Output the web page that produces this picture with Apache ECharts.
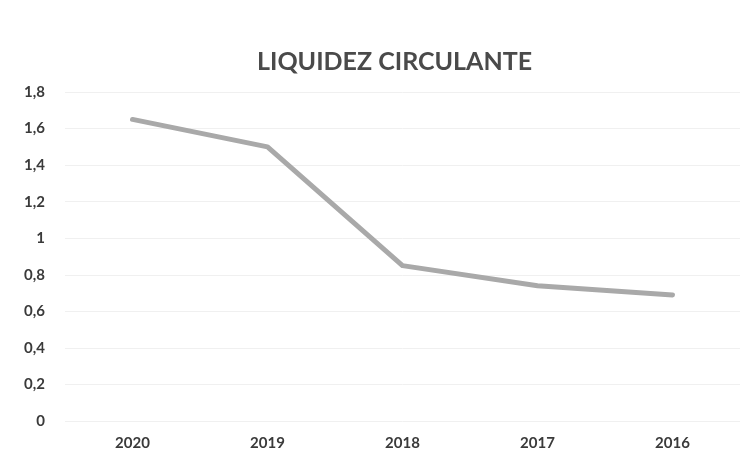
<!DOCTYPE html>
<html><head><meta charset="utf-8">
<script src="https://cdn.jsdelivr.net/npm/echarts@6/dist/echarts.min.js"></script>
<style>html,body{margin:0;padding:0;background:#fff}#c{width:755px;height:475px}</style>
</head><body><div id="c"></div>
<script>
var categories = ['2020', '2019', '2018', '2017', '2016'];
var values = [1.65, 1.50, 0.85, 0.74, 0.69];
var titleText = 'LIQUIDEZ CIRCULANTE';

var chart = echarts.init(document.getElementById('c'));
chart.setOption({
  backgroundColor: '#ffffff',
  animation: false,
  title: {
    text: titleText, left: 252, top: 44,
    textStyle: {fontFamily: 'Lato', fontWeight: 'bold', fontSize: 25, color: '#4a4a4a'}
  },
  grid: {left: 65, right: 15, top: 92, bottom: 54},
  xAxis: {
    type: 'category', data: categories, boundaryGap: true,
    axisLine: {show: false}, axisTick: {show: false},
    axisLabel: {margin: 15, fontFamily: 'Lato', fontWeight: 'bold', fontSize: 15, color: '#3a3a3a'}
  },
  yAxis: {
    type: 'value', min: 0, max: 1.8, interval: 0.2,
    axisLine: {show: false}, axisTick: {show: false},
    splitLine: {lineStyle: {color: '#f0f0f0', width: 1}},
    axisLabel: {margin: 20, fontFamily: 'Lato', fontWeight: 'bold', fontSize: 15, color: '#3a3a3a',
      formatter: function (v) { return String(Math.round(v * 10) / 10).replace('.', ','); }}
  },
  series: [{
    type: 'line', data: values, symbol: 'none',
    lineStyle: {color: '#a9a9a9', width: 5, cap: 'round', join: 'round'}
  }]
});
</script></body></html>
